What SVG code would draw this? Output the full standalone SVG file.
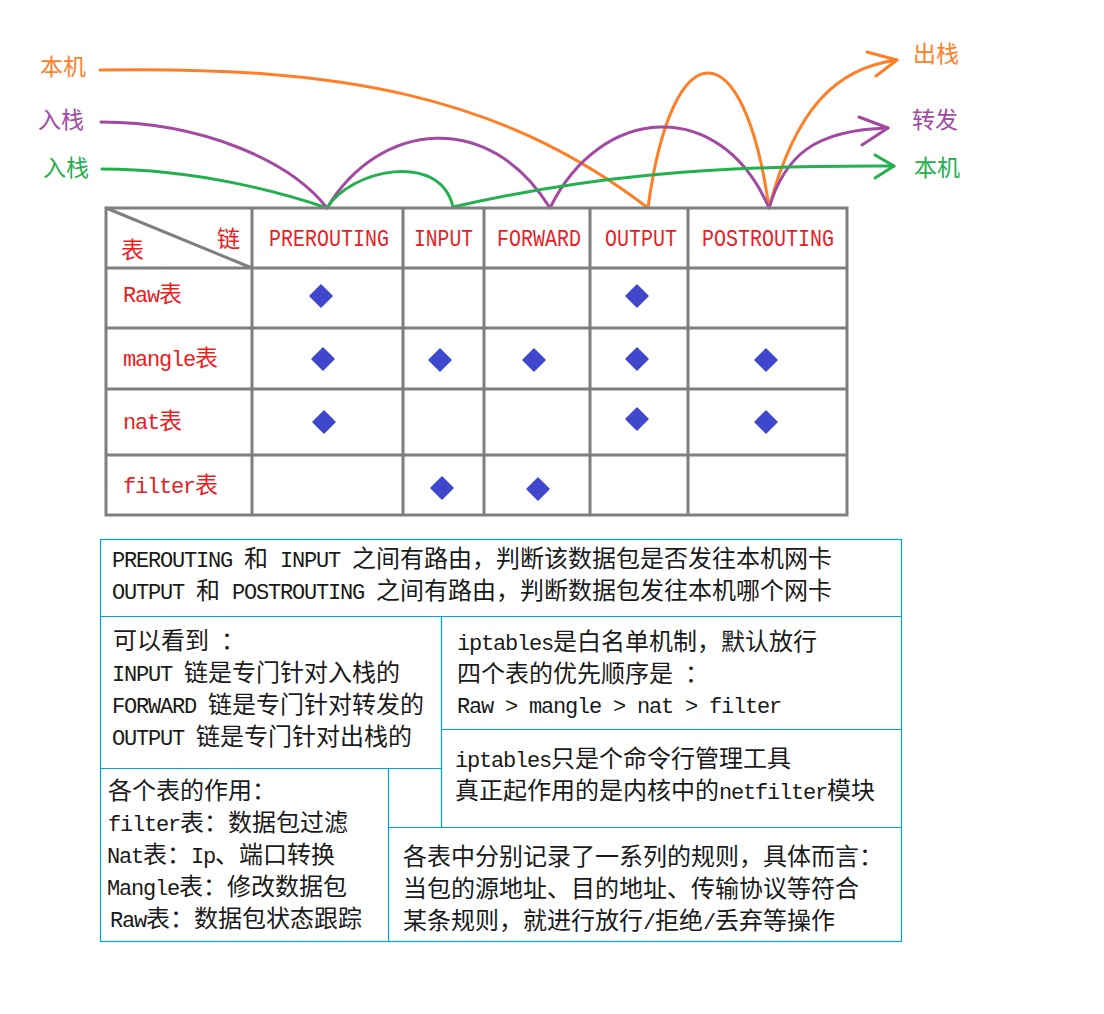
<svg xmlns="http://www.w3.org/2000/svg" xmlns:xlink="http://www.w3.org/1999/xlink" width="1104" height="1014" viewBox="0 0 1104 1014">
<style>
.t{font-family:"Noto Sans CJK SC","Noto Sans",sans-serif;font-size:24px;fill:#1a1a1a}
.m{font-family:"Liberation Mono","DejaVu Sans Mono",monospace;font-size:22px;letter-spacing:-1.2px}
.r{fill:#ed1c24}
.hd{font-family:"Liberation Mono",monospace;font-size:24px;fill:#ed1c24}
.lb{font-family:"Noto Sans CJK SC",sans-serif;font-size:23px}
.grid{stroke:#7f7f7f;stroke-width:3;fill:none}
.box{stroke:#00a2e8;stroke-width:1.2;fill:none}
.c{fill:none;stroke-width:3;stroke-linecap:round;stroke-linejoin:round}
.or{stroke:#ff7f27}.pu{stroke:#a349a4}.gr{stroke:#22b14c}
</style>
<defs>
<path id="d" d="M0,-11 L11,0 L0,11 L-11,0 Z" fill="#3f48cc" stroke="#3f48cc" stroke-width="1.5" stroke-linejoin="round"/>
</defs>
<rect width="1104" height="1014" fill="#ffffff"/>

<g id="labels">
<text class="lb" x="40" y="75" fill="#ff7f27">本机</text>
<text class="lb" x="38" y="128" fill="#a349a4">入栈</text>
<text class="lb" x="43" y="176" fill="#22b14c">入栈</text>
<text class="lb" x="913" y="62" fill="#ff7f27">出栈</text>
<text class="lb" x="912" y="128" fill="#a349a4">转发</text>
<text class="lb" x="914" y="176" fill="#22b14c">本机</text>
</g>

<g id="connectors">
<path class="c or" d="M100,70 C340,66 500,95 648,208 C672,28 744,28 769,208 C795,110 835,68 897,60"/>
<path class="c or" d="M867,52 L897,60 L876,76"/>
<path class="c pu" d="M101,122 C200,122 290,160 327,208 C380,120 490,110 550,208 C600,105 720,95 769,208 C785,155 815,130 888,128"/>
<path class="c pu" d="M859,117 L888,128 L862,145"/>
<path class="c gr" d="M102,169 C200,169 290,195 327,208 C350,170 440,150 453,207 C580,178 700,165 894,166"/>
<path class="c gr" d="M875,155 L894,166 L875,178"/>
</g>

<g id="table">
<rect class="grid" x="106" y="208" width="741" height="307"/>
<path class="grid" d="M252,208V515M403,208V515M484,208V515M590,208V515M688,208V515M106,268H847M106,328H847M106,389H847M106,455H847M106,208L252,268"/>
<text class="lb r" x="121" y="258">表</text>
<text class="lb r" x="217" y="247">链</text>
<text class="hd" x="269" y="246" textLength="120" lengthAdjust="spacingAndGlyphs">PREROUTING</text>
<text class="hd" x="414" y="246" textLength="59" lengthAdjust="spacingAndGlyphs">INPUT</text>
<text class="hd" x="497" y="246" textLength="84" lengthAdjust="spacingAndGlyphs">FORWARD</text>
<text class="hd" x="605" y="246" textLength="72" lengthAdjust="spacingAndGlyphs">OUTPUT</text>
<text class="hd" x="702" y="246" textLength="132" lengthAdjust="spacingAndGlyphs">POSTROUTING</text>
<text class="t r" x="123" y="302"><tspan class="m">Raw</tspan><tspan font-size="23">表</tspan></text>
<text class="t r" x="123" y="366"><tspan class="m">mangle</tspan><tspan font-size="23">表</tspan></text>
<text class="t r" x="123" y="429"><tspan class="m">nat</tspan><tspan font-size="23">表</tspan></text>
<text class="t r" x="123" y="493"><tspan class="m">filter</tspan><tspan font-size="23">表</tspan></text>
<use xlink:href="#d" x="321" y="296"/>
<use xlink:href="#d" x="637" y="296"/>
<use xlink:href="#d" x="323" y="359"/>
<use xlink:href="#d" x="440" y="360"/>
<use xlink:href="#d" x="534" y="360"/>
<use xlink:href="#d" x="637" y="359"/>
<use xlink:href="#d" x="766" y="360"/>
<use xlink:href="#d" x="324" y="422"/>
<use xlink:href="#d" x="637" y="419"/>
<use xlink:href="#d" x="766" y="422"/>
<use xlink:href="#d" x="442" y="488"/>
<use xlink:href="#d" x="538" y="489"/>
</g>

<g id="notes">
<rect class="box" x="100.5" y="539.5" width="801" height="402"/>
<path class="box" d="M100.5,616.5H901.5M441.5,616.5V827.5M100.5,768.5H441.5M388.5,768.5V941.5M388.5,827.5H901.5M441.5,729.5H901.5"/>
</g>

<g id="note-routing">
<text class="t" x="112" y="567"><tspan class="m">PREROUTING </tspan>和<tspan class="m"> INPUT </tspan>之间有路由，判断该数据包是否发往本机网卡</text>
<text class="t" x="112" y="599"><tspan class="m">OUTPUT </tspan>和<tspan class="m"> POSTROUTING </tspan>之间有路由，判断数据包发往本机哪个网卡</text>
</g>

<g id="note-chains">
<text class="t" x="113" y="649">可以看到<tspan class="m"> </tspan>：</text>
<text class="t" x="112" y="681"><tspan class="m">INPUT </tspan>链是专门针对入栈的</text>
<text class="t" x="112" y="713"><tspan class="m">FORWARD </tspan>链是专门针对转发的</text>
<text class="t" x="112" y="745"><tspan class="m">OUTPUT </tspan>链是专门针对出栈的</text>
</g>

<g id="note-tables">
<text class="t" x="108" y="799">各个表的作用：</text>
<text class="t" x="108" y="831"><tspan class="m">filter</tspan>表：数据包过滤</text>
<text class="t" x="107" y="863"><tspan class="m">Nat</tspan>表：<tspan class="m">Ip</tspan>、端口转换</text>
<text class="t" x="107" y="895"><tspan class="m">Mangle</tspan>表：修改数据包</text>
<text class="t" x="110" y="927"><tspan class="m">Raw</tspan>表：数据包状态跟踪</text>
</g>

<g id="note-priority">
<text class="t" x="457" y="650"><tspan class="m">iptables</tspan>是白名单机制，默认放行</text>
<text class="t" x="457" y="682">四个表的优先顺序是<tspan class="m"> </tspan>：</text>
<text class="t" x="457" y="713"><tspan class="m">Raw &gt; mangle &gt; nat &gt; filter</tspan></text>
</g>

<g id="note-tool">
<text class="t" x="455" y="767"><tspan class="m">iptables</tspan>只是个命令行管理工具</text>
<text class="t" x="455" y="799">真正起作用的是内核中的<tspan class="m">netfilter</tspan>模块</text>
</g>

<g id="note-rules">
<text class="t" x="403" y="865">各表中分别记录了一系列的规则，具体而言：</text>
<text class="t" x="403" y="897">当包的源地址、目的地址、传输协议等符合</text>
<text class="t" x="403" y="929">某条规则，就进行放行<tspan class="m">/</tspan>拒绝<tspan class="m">/</tspan>丢弃等操作</text>
</g>
</svg>
